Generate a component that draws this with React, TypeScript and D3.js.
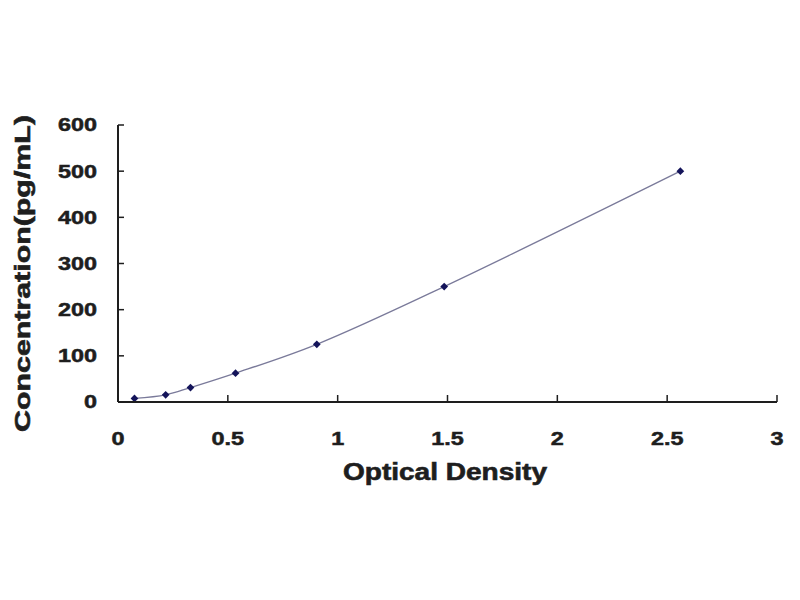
import React from "react";
import * as d3 from "d3";

const odValues = [0.075, 0.217, 0.33, 0.535, 0.905, 1.485, 2.56];
const concValues = [7.8, 15.6, 31.25, 62.5, 125, 250, 500];
const xTicks = [0, 0.5, 1, 1.5, 2, 2.5, 3];
const yTicks = [0, 100, 200, 300, 400, 500, 600];
const xTitle = "Optical Density";
const yTitle = "Concentration(pg/mL)";

const W = 800;
const H = 600;
const left = 118;
const right = 777;
const top = 125;
const bottom = 402;

export default function App() {
  const x = d3.scaleLinear().domain([0, 3]).range([left, right]);
  const y = d3.scaleLinear().domain([0, 600]).range([bottom, top]);
  const pts = odValues.map((v, i) => [v, concValues[i]] as [number, number]);
  const line = d3
    .line<[number, number]>()
    .x((d) => x(d[0]))
    .y((d) => y(d[1]))
    .curve(d3.curveCatmullRom.alpha(0.5));
  const diamond = d3.symbol().type(d3.symbolSquare).size(30)();
  const font = "'Liberation Sans', Arial, sans-serif";
  const ink = "#1e1e1e";
  return (
    <svg
      width={W}
      height={H}
      style={{ position: "absolute", left: 0, top: 0, background: "#fff" }}
    >
      <rect x={0} y={0} width={W} height={H} fill="#fff" />
      <path d={line(pts) || ""} fill="none" stroke="#7a7a9a" strokeWidth={1.3} />
      {pts.map((d, i) => (
        <path
          key={i}
          d={diamond || ""}
          transform={`translate(${x(d[0])},${y(d[1])}) rotate(45)`}
          fill="#14145a"
        />
      ))}
      {/* axes */}
      <line x1={left} y1={top} x2={left} y2={bottom} stroke={ink} strokeWidth={2} />
      <line x1={left} y1={bottom} x2={right} y2={bottom} stroke={ink} strokeWidth={2} />
      {yTicks.map((t) => (
        <g key={"y" + t}>
          <line x1={left} x2={left + 6} y1={y(t)} y2={y(t)} stroke={ink} strokeWidth={1.5} />
          <text
            x={97}
            y={y(t)}
            textAnchor="end"
            dominantBaseline="central"
            fontFamily={font}
            fontWeight="bold"
            fontSize={18}
            fill={ink}
            stroke={ink}
            strokeWidth={0.5}
            transform={`translate(97,0) scale(1.3,1) translate(-97,0)`}
          >
            {t}
          </text>
        </g>
      ))}
      {xTicks.map((t) => (
        <g key={"x" + t}>
          <line x1={x(t)} x2={x(t)} y1={bottom} y2={bottom - 7} stroke={ink} strokeWidth={1.5} />
          <text
            x={x(t)}
            y={439}
            textAnchor="middle"
            dominantBaseline="central"
            fontFamily={font}
            fontWeight="bold"
            fontSize={18}
            fill={ink}
            stroke={ink}
            strokeWidth={0.5}
            transform={`translate(${x(t)},0) scale(1.3,1) translate(${-x(t)},0)`}
          >
            {t}
          </text>
        </g>
      ))}
      <text
        x={445}
        y={480}
        textAnchor="middle"
        fontFamily={font}
        fontWeight="bold"
        fontSize={23}
        fill={ink}
        stroke={ink}
        strokeWidth={0.6}
        textLength={204}
        lengthAdjust="spacingAndGlyphs"
      >
        {xTitle}
      </text>
      <text
        transform={`translate(30,${(115 + 432) / 2}) rotate(-90)`}
        x={0}
        y={0}
        textAnchor="middle"
        fontFamily={font}
        fontWeight="bold"
        fontSize={22}
        fill={ink}
        stroke={ink}
        strokeWidth={0.6}
        textLength={317}
        lengthAdjust="spacingAndGlyphs"
      >
        {yTitle}
      </text>
    </svg>
  );
}
